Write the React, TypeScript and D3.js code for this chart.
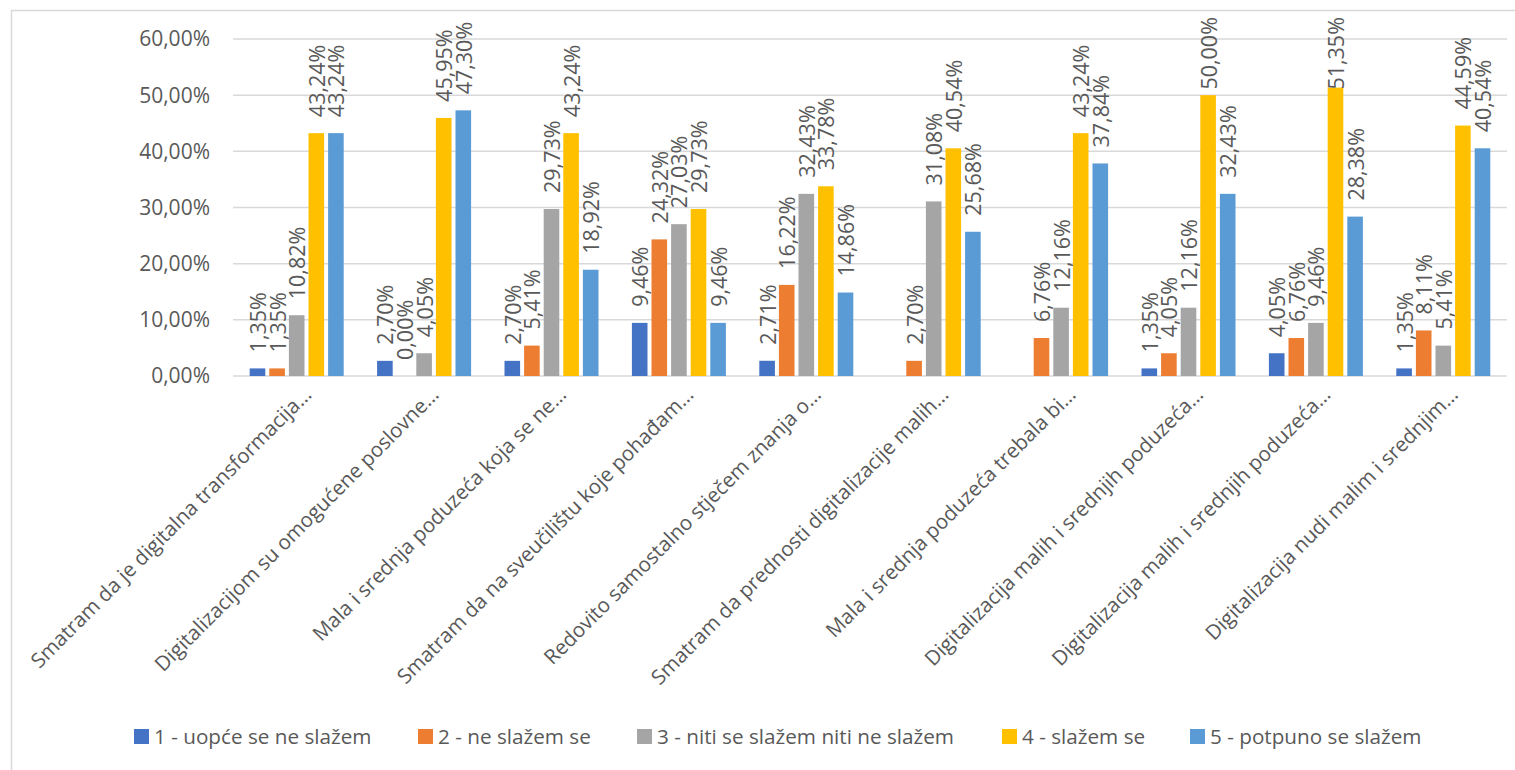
import React from "react";
import * as d3 from "d3";

const categories = [
  "Smatram da je digitalna transformacija…",
  "Digitalizacijom su omogućene poslovne…",
  "Mala i srednja poduzeća koja se ne…",
  "Smatram da na sveučilištu koje pohađam…",
  "Redovito samostalno stječem znanja o…",
  "Smatram da prednosti digitalizacije malih…",
  "Mala i srednja poduzeća trebala bi…",
  "Digitalizacija malih i srednjih poduzeća…",
  "Digitalizacija malih i srednjih poduzeća…",
  "Digitalizacija nudi malim i srednjim…",
];

const seriesNames = [
  "1 - uopće se ne slažem",
  "2 - ne slažem se",
  "3 - niti se slažem niti ne slažem",
  "4 - slažem se",
  "5 - potpuno se slažem",
];

const s1: (number | null)[] = [1.35, 2.7, 2.7, 9.46, 2.71, null, null, 1.35, 4.05, 1.35];
const s2: (number | null)[] = [1.35, 0.0, 5.41, 24.32, 16.22, 2.7, 6.76, 4.05, 6.76, 8.11];
const s3: (number | null)[] = [10.82, 4.05, 29.73, 27.03, 32.43, 31.08, 12.16, 12.16, 9.46, 5.41];
const s4: (number | null)[] = [43.24, 45.95, 43.24, 29.73, 33.78, 40.54, 43.24, 50.0, 51.35, 44.59];
const s5: (number | null)[] = [43.24, 47.3, 18.92, 9.46, 14.86, 25.68, 37.84, 32.43, 28.38, 40.54];

const yTicks = [0, 10, 20, 30, 40, 50, 60];

const colors = ["#4472C4", "#ED7D31", "#A5A5A5", "#FFC000", "#5B9BD5"];

const FONT = "'Open Sans', 'Segoe UI', sans-serif";
const TEXT = "#595959";

const fmt = (v: number) => v.toFixed(2).replace(".", ",") + "%";

export default function App() {
  const W = 1515;
  const H = 770;
  const plotL = 233;
  const plotR = 1507;
  const plotT = 39;
  const plotB = 376;
  const series = [s1, s2, s3, s4, s5];

  const x0 = d3.scaleBand<number>().domain(d3.range(categories.length)).range([plotL, plotR]).padding(0);
  const groupW = 98;
  const x1 = d3
    .scaleBand<number>()
    .domain(d3.range(series.length))
    .range([(x0.bandwidth() - groupW) / 2, (x0.bandwidth() + groupW) / 2])
    .padding(0);
  const barW = x1.bandwidth() - 4;
  const y = d3.scaleLinear().domain([0, 60]).range([plotB, plotT]);

  const legendX = [134, 418, 637, 1002, 1190];
  const legendY = 736.5;
  const labelFont = 21.5;
  const labelTopLimit = 18;

  return (
    <svg
      width={W}
      height={H}
      style={{ position: "absolute", left: 0, top: 0, background: "#fff" }}
      fontFamily={FONT}
    >
      <rect x={11.5} y={10.5} width={1530} height={800} fill="#fff" stroke="#D9D9D9" strokeWidth={1.5} />
      {yTicks.map((t) => (
        <g key={t}>
          <line x1={plotL} x2={plotR} y1={y(t)} y2={y(t)} stroke="#D9D9D9" strokeWidth={1.5} />
          <text x={210} y={y(t)} dy="0.35em" textAnchor="end" fontSize={21} fill={TEXT}>
            {fmt(t)}
          </text>
        </g>
      ))}
      {categories.map((c, i) => (
        <g key={i} transform={`translate(${x0(i)!},0)`}>
          {series.map((s, j) => {
            const v = s[i];
            if (v === null) return null;
            const cx = x1(j)! + x1.bandwidth() / 2;
            const label = fmt(v);
            const approxLen = label.length * labelFont * 0.555;
            const startY = Math.max(y(v) - 16, labelTopLimit + approxLen);
            return (
              <g key={j}>
                <rect x={cx - barW / 2} y={y(v)} width={barW} height={plotB - y(v)} fill={colors[j]} />
                <text
                  transform={`translate(${cx + 1},${startY}) rotate(-90)`}
                  dy="0.35em"
                  textAnchor="start"
                  fontSize={labelFont}
                  fill={TEXT}
                >
                  {label}
                </text>
              </g>
            );
          })}
        </g>
      ))}
      {categories.map((c, i) => {
        const cx = x0(i)! + x0.bandwidth() / 2;
        return (
          <text
            key={i}
            transform={`translate(${cx + 16},${396}) rotate(-45)`}
            textAnchor="end"
            fontSize={20.5}
            fill={TEXT}
          >
            {c}
          </text>
        );
      })}
      {seriesNames.map((n, j) => (
        <g key={j} transform={`translate(${legendX[j]},${legendY})`}>
          <rect x={0} y={-7.5} width={15} height={15} fill={colors[j]} />
          <text x={20} y={0} dy="0.35em" fontSize={20.7} fill={TEXT}>
            {n}
          </text>
        </g>
      ))}
    </svg>
  );
}
